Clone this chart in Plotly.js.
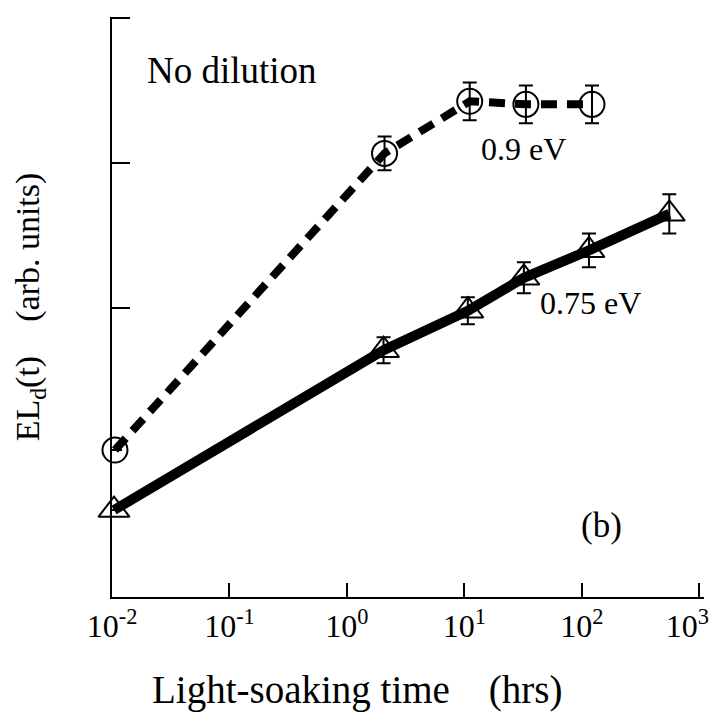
<!DOCTYPE html>
<html>
<head>
<meta charset="utf-8">
<script src="https://cdn.plot.ly/plotly-3.0.1.min.js"></script>
<style>html,body{margin:0;padding:0;background:#fff;}#chart{width:714px;height:715px;}</style>
</head>
<body>
<div id="chart"></div>
<script>
// Light-soaking time (hrs)
const timeHigh = [0.0106, 2.09, 11.1, 33.4, 122];
const elHigh = [1.016, 3.067, 3.427, 3.406, 3.406];
const errHigh = [0, 0.117, 0.131, 0.131, 0.131];

const timeLow = [0.0104, 2.05, 10.7, 32.1, 115, 555];
const elLow = [0.601, 1.706, 1.979, 2.207, 2.397, 2.649];
const errLow = [0, 0.090, 0.093, 0.107, 0.117, 0.135];

const xTickVals = [0.01, 0.1, 1, 10, 100, 1000];
const xTickText = ['10<sup>-2</sup>', '10<sup>-1</sup>', '10<sup>0</sup>', '10<sup>1</sup>', '10<sup>2</sup>', '10<sup>3</sup>\u00a0\u00a0\u00a0'];
const yTickVals = [2, 3, 4];

const FONT = 'Liberation Serif, Times New Roman, serif';

const traces = [
  {
    x: timeHigh, y: elHigh, type: 'scatter', mode: 'lines+markers', name: '0.9 eV',
    line: {color: '#000', width: 8, dash: '16px,10px'},
    marker: {symbol: 'circle-open', size: 25, color: '#000', line: {width: 2, color: '#000'}},
    error_y: {type: 'data', array: errHigh, visible: true, color: '#000', thickness: 2, width: 7},
    cliponaxis: false
  },
  {
    x: timeLow, y: elLow, type: 'scatter', mode: 'lines+markers', name: '0.75 eV',
    line: {color: '#000', width: 10},
    marker: {symbol: 'triangle-up-open', size: 27, color: '#000', line: {width: 2, color: '#000'}},
    error_y: {type: 'data', array: errLow, visible: true, color: '#000', thickness: 2, width: 7},
    cliponaxis: false
  }
];

const layout = {
  width: 714, height: 715,
  margin: {l: 112, r: 10, t: 17, b: 118},
  paper_bgcolor: '#fff', plot_bgcolor: '#fff',
  showlegend: false,
  font: {family: FONT, color: '#000', size: 30},
  xaxis: {
    type: 'log', range: [-2, 3.04],
    tickvals: xTickVals, ticktext: xTickText,
    ticks: 'inside', ticklen: 14, tickwidth: 2, tickcolor: '#000',
    showline: true, linecolor: '#000', linewidth: 2,
    showgrid: false, zeroline: false,
    ticklabeloverflow: 'allow',
    tickfont: {family: FONT, size: 32, color: '#000'}
  },
  yaxis: {
    range: [0, 4.01],
    tickvals: yTickVals, showticklabels: false,
    ticks: 'inside', ticklen: 18, tickwidth: 2, tickcolor: '#000',
    showline: true, linecolor: '#000', linewidth: 2,
    showgrid: false, zeroline: false,
    title: {text: 'EL<sub>d</sub>(t)\u00a0\u00a0\u00a0\u00a0(arb. units)', font: {family: FONT, size: 34, color: '#000'}, standoff: 60}
  },
  annotations: [
    {text: 'Light-soaking time\u00a0\u00a0\u00a0\u00a0(hrs)', x: 357, y: 690, xref: 'paper', yref: 'paper', showarrow: false, xanchor: 'center', yanchor: 'middle', font: {family: FONT, size: 39, color: '#000'}},
    {text: 'No dilution', x: -1.718, y: 3.64, xref: 'x', yref: 'y', xanchor: 'left', yanchor: 'middle', showarrow: false, font: {family: FONT, size: 37, color: '#000'}},
    {text: '0.9 eV', x: 1.123, y: 3.10, xref: 'x', yref: 'y', xanchor: 'left', yanchor: 'middle', showarrow: false, font: {family: FONT, size: 32, color: '#000'}},
    {text: '0.75 eV', x: 1.626, y: 2.03, xref: 'x', yref: 'y', xanchor: 'left', yanchor: 'middle', showarrow: false, font: {family: FONT, size: 32, color: '#000'}},
    {text: '(b)', x: 1.976, y: 0.497, xref: 'x', yref: 'y', xanchor: 'left', yanchor: 'middle', showarrow: false, font: {family: FONT, size: 35, color: '#000'}}
  ]
};

// convert pixel positions of the x-title annotation into paper coordinates
const plotW = 714 - layout.margin.l - layout.margin.r, plotH = 715 - layout.margin.t - layout.margin.b;
layout.annotations[0].x = (357 - layout.margin.l) / plotW;
layout.annotations[0].y = (715 - layout.margin.b - 690) / plotH;

Plotly.newPlot('chart', traces, layout, {displayModeBar: false, staticPlot: true});
</script>
</body>
</html>
